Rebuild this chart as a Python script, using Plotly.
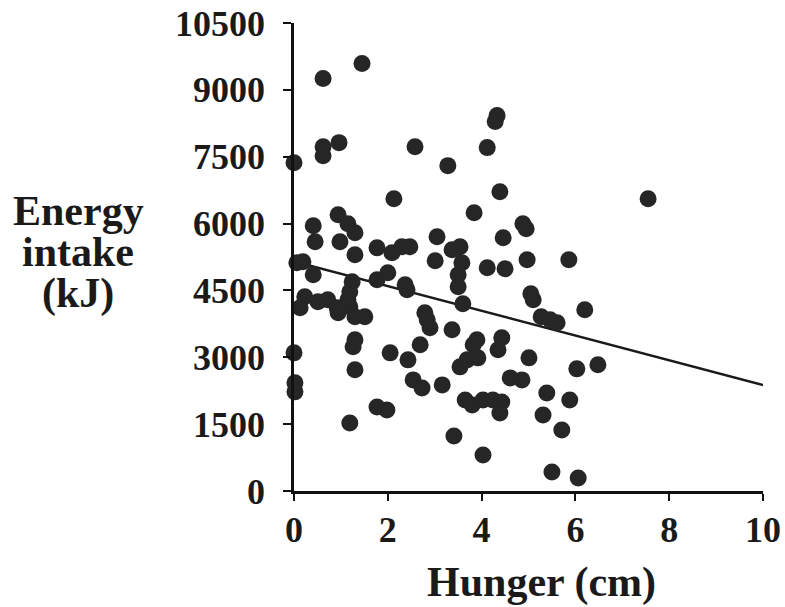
import plotly.graph_objects as go

# Hunger (cm) and Energy intake (kJ)
hunger = [
    0.62, 1.45, 0.00, 0.62, 0.62, 0.96, 2.58, 3.28, 4.33, 4.29, 4.12, 4.39, 2.13, 7.55, 3.84,
    0.41, 0.94, 1.15, 1.30, 0.45, 0.98, 1.30, 1.77, 2.09, 2.30, 2.47, 3.05, 4.46, 4.88, 4.95,
    3.37, 3.54, 3.01, 3.58, 4.12, 4.50, 4.97, 5.86,
    0.06, 0.19, 0.41, 1.24, 1.19, 1.15, 1.19, 1.77, 2.00, 2.37, 2.41, 3.50, 3.50, 3.60,
    5.05, 5.10, 5.27, 5.46, 5.61, 6.20,
    0.23, 0.13, 0.51, 0.72, 0.92, 0.94, 1.30, 1.51,
    2.79, 2.84, 2.90, 3.37, 1.30, 1.26, 3.90, 3.82, 4.43, 4.35, 2.69, 2.05, 0.00, 2.43,
    3.54, 3.69, 3.92, 5.01, 1.30, 4.61, 4.86, 6.03, 6.48, 2.54, 2.73, 3.16, 0.02, 0.02,
    3.65, 3.80, 4.03, 4.24, 4.43, 4.39, 5.39, 5.88, 1.77, 1.98, 1.19, 5.31, 5.71, 3.41,
    4.03, 5.50, 6.06,
]
energy = [
    9254, 9590, 7367, 7726, 7524, 7816, 7726, 7300, 8423, 8288, 7704, 6716, 6558, 6558, 6244,
    5952, 6199, 5997, 5795, 5593, 5593, 5301, 5458, 5345, 5480, 5480, 5705, 5682, 5997, 5885,
    5413, 5480, 5166, 5121, 5009, 4986, 5188, 5188,
    5121, 5143, 4851, 4694, 4470, 4290, 4133, 4739, 4896, 4627, 4514, 4851, 4582, 4200,
    4425, 4290, 3908, 3841, 3773, 4065,
    4357, 4110, 4245, 4290, 4110, 3998, 3908, 3908,
    3998, 3841, 3661, 3616, 3391, 3234, 3391, 3279, 3436, 3167, 3279, 3099, 3099, 2942,
    2785, 2942, 2987, 2987, 2718, 2538, 2493, 2740, 2830, 2493, 2313, 2381, 2426, 2224,
    2044, 1932, 2044, 2044, 1999, 1752, 2201, 2044, 1887, 1819, 1527, 1707, 1370, 1235,
    809, 427, 292,
]

# Regression line end points
fit_x = [0, 10]
fit_y = [5150, 2380]

x_ticks = [0, 2, 4, 6, 8, 10]
y_ticks = [0, 1500, 3000, 4500, 6000, 7500, 9000, 10500]

x_title = "Hunger (cm)"
y_title_lines = ["Energy", "intake", "(kJ)"]

FONT = "Liberation Serif"
INK = "#1a1a1a"

W, H = 785, 607
# plot area wanted (page pixels): x 294..763, y 23..491
L, T = 294, 23
R, B = W - 763, H - 491
PW, PH = W - L - R, H - T - B


def px_x(px):
    return (px - L) / PW


def px_y(py):
    return (H - B - py) / PH


fig = go.Figure()
fig.add_trace(go.Scatter(
    x=fit_x, y=fit_y, mode="lines",
    line=dict(color=INK, width=2.5),
    hoverinfo="skip", showlegend=False,
))
fig.add_trace(go.Scatter(
    x=hunger, y=energy, mode="markers",
    marker=dict(size=17, color="#262626", line=dict(width=0)),
    cliponaxis=False, showlegend=False,
))

fig.update_xaxes(
    range=[0, 10], tickvals=x_ticks, showgrid=False, zeroline=False,
    showline=True, linecolor="#111", linewidth=2.5, automargin=False,
    ticks="outside", ticklen=7, tickwidth=2, tickcolor="#111",
    tickfont=dict(family=FONT, size=36, color=INK, weight="bold"),
    ticklabelstandoff=-2, ticklabeloverflow="allow",
)
fig.update_yaxes(
    range=[0, 10500], tickvals=y_ticks, tickformat="d",
    showgrid=False, zeroline=False,
    showline=True, linecolor="#111", linewidth=2.5, automargin=False,
    ticks="outside", ticklen=8, tickwidth=2, tickcolor="#111",
    tickfont=dict(family=FONT, size=36, color=INK, weight="bold"),
    ticklabelstandoff=11, ticklabeloverflow="allow",
)

fig.add_annotation(
    text=x_title, xref="paper", yref="paper", x=px_x(541), y=px_y(582),
    xanchor="center", yanchor="middle", showarrow=False,
    font=dict(family=FONT, size=42, color=INK, weight="bold"),
)
for line_text, cy in zip(y_title_lines, [211, 252, 293]):
    fig.add_annotation(
        text=line_text, xref="paper", yref="paper", x=px_x(78), y=px_y(cy),
        xanchor="center", yanchor="middle", showarrow=False,
        font=dict(family=FONT, size=42, color=INK, weight="bold"),
    )

fig.update_layout(
    width=W, height=H,
    margin=dict(l=L, r=R, t=T, b=B, autoexpand=False),
    plot_bgcolor="white", paper_bgcolor="white",
)

fig.write_html(
    "out.html",
    config={"displayModeBar": False},
    post_script="document.body.style.margin='0';document.body.style.overflow='hidden';",
)
